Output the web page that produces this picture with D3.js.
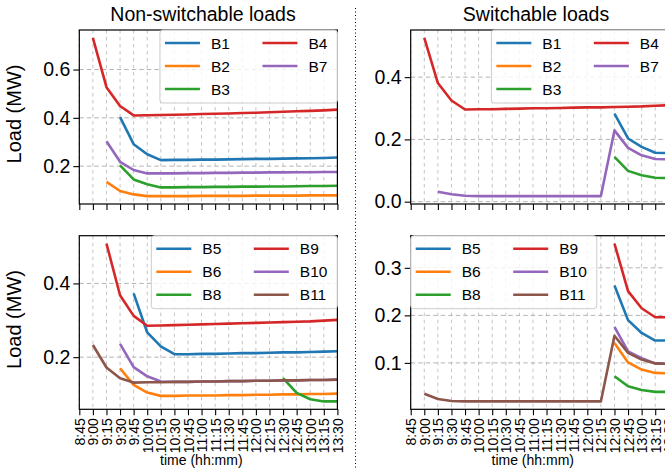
<!DOCTYPE html>
<html>
<head>
<meta charset="utf-8">
<script src="https://cdn.jsdelivr.net/npm/d3@7"></script>
<style>
  body { margin: 0; background: #fff; }
  svg { display: block; font-family: "Liberation Sans", Arial, sans-serif; }
</style>
</head>
<body>
<svg id="chart" width="665" height="474"></svg>
<script>
// x ticks every 15 minutes, data starts at 9:00
var tickLabels = ["8:45","9:00","9:15","9:30","9:45","10:00","10:15","10:30","10:45","11:00",
                  "11:15","11:30","11:45","12:00","12:15","12:30","12:45","13:00","13:15","13:30"];
var times = tickLabels.slice(1);

var topNames    = ["B1","B2","B3","B4","B7"];
var bottomNames = ["B5","B6","B8","B9","B10","B11"];

// non-switchable loads (MW)
var nsB1  = [null,null,0.403,0.291,0.249,0.225,0.226,0.226,0.227,0.227,0.228,0.229,0.230,0.230,0.231,0.232,0.233,0.234,0.236];
var nsB2  = [null,0.135,0.097,0.083,0.076,0.076,0.076,0.076,0.077,0.077,0.077,0.077,0.078,0.078,0.078,0.078,0.079,0.079,0.079];
var nsB3  = [null,null,0.203,0.145,0.125,0.112,0.112,0.113,0.113,0.114,0.114,0.115,0.115,0.116,0.116,0.117,0.118,0.118,0.119];
var nsB4  = [0.731,0.527,0.449,0.410,0.411,0.412,0.413,0.414,0.416,0.417,0.418,0.420,0.421,0.423,0.425,0.427,0.429,0.431,0.434];
var nsB7  = [null,0.303,0.218,0.184,0.170,0.170,0.170,0.171,0.171,0.172,0.172,0.173,0.173,0.174,0.174,0.175,0.175,0.176,0.176];
var nsB5  = [null,null,null,0.373,0.267,0.229,0.208,0.208,0.209,0.209,0.210,0.211,0.211,0.212,0.213,0.213,0.214,0.215,0.216];
var nsB6  = [null,null,0.170,0.125,0.104,0.095,0.095,0.096,0.096,0.096,0.097,0.097,0.098,0.098,0.099,0.099,0.100,0.100,0.101];
var nsB8  = [null,null,null,null,null,null,null,null,null,null,null,null,null,null,0.143,0.103,0.086,0.080,0.080];
var nsB9  = [null,0.508,0.368,0.312,0.285,0.286,0.287,0.288,0.289,0.290,0.291,0.292,0.293,0.294,0.295,0.296,0.297,0.299,0.301];
var nsB10 = [null,null,0.236,0.173,0.148,0.134,0.133,0.133,0.134,0.134,0.135,0.135,0.136,0.136,0.137,0.137,0.138,0.138,0.139];
var nsB11 = [0.233,0.172,0.143,0.131,0.132,0.132,0.133,0.133,0.134,0.134,0.135,0.135,0.136,0.136,0.137,0.137,0.138,0.138,0.139];

// switchable loads (MW)
var swB1  = [null,null,null,null,null,null,null,null,null,null,null,null,null,null,0.283,0.203,0.176,0.157,0.156];
var swB2  = [null,null,null,null,null,null,null,null,null,null,null,null,null,null,null,null,null,null,null];
var swB3  = [null,null,null,null,null,null,null,null,null,null,null,null,null,null,0.144,0.099,0.085,0.077,0.076];
var swB4  = [0.526,0.381,0.325,0.296,0.297,0.297,0.298,0.299,0.300,0.300,0.301,0.302,0.303,0.303,0.304,0.305,0.306,0.308,0.310];
var swB7  = [null,0.032,0.024,0.019,0.018,0.018,0.018,0.018,0.018,0.018,0.018,0.018,0.018,0.018,0.229,0.173,0.149,0.137,0.136];
var swB5  = [null,null,null,null,null,null,null,null,null,null,null,null,null,null,0.263,0.190,0.163,0.147,0.147];
var swB6  = [null,null,null,null,null,null,null,null,null,null,null,null,null,null,0.142,0.101,0.086,0.079,0.078];
var swB8  = [null,null,null,null,null,null,null,null,null,null,null,null,null,null,0.072,0.051,0.043,0.039,0.039];
var swB9  = [null,null,null,null,null,null,null,null,null,null,null,null,null,null,0.351,0.251,0.215,0.196,0.196];
var swB10 = [null,null,null,null,null,null,null,null,null,null,null,null,null,null,0.176,0.124,0.110,0.099,0.098];
var swB11 = [0.035,0.024,0.020,0.019,0.019,0.019,0.019,0.019,0.019,0.019,0.019,0.019,0.019,0.019,0.157,0.121,0.107,0.099,0.098];

var yTicksTL = [0.2, 0.4, 0.6];
var yTicksTR = [0.0, 0.2, 0.4];
var yTicksBL = [0.2, 0.4];
var yTicksBR = [0.1, 0.2, 0.3];

var svg = d3.select("#chart");
var colors = d3.schemeCategory10;

var panels = [
    {x: 79.3,  y: 30,    w: 258.1, h: 174,   names: topNames,    data: [nsB1,nsB2,nsB3,nsB4,nsB7],
     yTicks: yTicksTL, title: "Non-switchable loads", titleX: 203, ylabel: true, xlabels: false, legend: "right"},
    {x: 410.7, y: 30,    w: 258.1, h: 174,   names: topNames,    data: [swB1,swB2,swB3,swB4,swB7],
     yTicks: yTicksTR, title: "Switchable loads", titleX: 536, ylabel: false, xlabels: false, legend: "right"},
    {x: 79.3,  y: 235.7, w: 258.1, h: 173.6, names: bottomNames, data: [nsB5,nsB6,nsB8,nsB9,nsB10,nsB11],
     yTicks: yTicksBL, ylabel: true, xlabels: true, legend: "right"},
    {x: 410.7, y: 235.7, w: 258.1, h: 173.6, names: bottomNames, data: [swB5,swB6,swB8,swB9,swB10,swB11],
     yTicks: yTicksBR, ylabel: false, xlabels: true, legend: "left"}
];

var tickLen = 6;

panels.forEach(function(p, pi){

    var g = svg.append("g").attr("transform", "translate(" + p.x + "," + p.y + ")");

    var x = d3.scalePoint().domain(tickLabels).range([0, p.w]);

    // autoscale like matplotlib: extent plus 5% margin
    var all = [];
    p.data.forEach(function(s){ s.forEach(function(v){ if (v != null) all.push(v); }); });
    var ext = d3.extent(all), pad = (ext[1] - ext[0]) * 0.05;
    var y = d3.scaleLinear().domain([ext[0] - pad, ext[1] + pad]).range([p.h, 0]);

    g.append("clipPath").attr("id", "clip" + pi)
        .append("rect").attr("width", p.w).attr("height", p.h);

    // grid
    g.append("g").selectAll("line").data(tickLabels).enter().append("line")
        .attr("x1", function(d){ return x(d); }).attr("x2", function(d){ return x(d); })
        .attr("y1", 0).attr("y2", p.h)
        .attr("stroke", "#c4c4c4").attr("stroke-width", 1)
        .attr("stroke-dasharray", "3.5,3.5");
    g.append("g").selectAll("line").data(p.yTicks).enter().append("line")
        .attr("x1", 0).attr("x2", p.w)
        .attr("y1", function(d){ return y(d); }).attr("y2", function(d){ return y(d); })
        .attr("stroke", "#b4b4b4").attr("stroke-width", 1)
        .attr("stroke-dasharray", "4.5,3");

    // series
    var line = d3.line()
        .defined(function(d){ return d != null; })
        .x(function(d, i){ return x(times[i]); })
        .y(function(d){ return y(d); });

    g.append("g").attr("clip-path", "url(#clip" + pi + ")")
        .selectAll("path").data(p.data).enter().append("path")
        .attr("d", line)
        .attr("fill", "none")
        .attr("stroke", function(d, i){ return colors[i]; })
        .attr("stroke-width", 2.6)
        .attr("stroke-linejoin", "round");

    // axes
    var xAxis = d3.axisBottom(x).tickSizeOuter(0).tickSizeInner(tickLen).tickPadding(3);
    if (!p.xlabels) xAxis.tickFormat("");
    var gx = g.append("g").attr("transform", "translate(0," + p.h + ")").call(xAxis);
    gx.select(".domain").remove();
    gx.selectAll("line").attr("stroke", "#000").attr("stroke-width", 1.1);
    gx.selectAll("text")
        .attr("font-family", "Liberation Sans, Arial, sans-serif")
        .attr("font-size", 14).attr("fill", "#000")
        .attr("text-anchor", "end")
        .attr("transform", "rotate(-90)")
        .attr("x", -(tickLen + 3)).attr("y", 0).attr("dy", "0.36em");

    var yAxis = d3.axisLeft(y).tickValues(p.yTicks).tickFormat(d3.format(".1f"))
        .tickSizeOuter(0).tickSizeInner(tickLen).tickPadding(3);
    var gy = g.append("g").call(yAxis);
    gy.select(".domain").remove();
    gy.selectAll("line").attr("stroke", "#000").attr("stroke-width", 1.1);
    gy.selectAll("text")
        .attr("font-family", "Liberation Sans, Arial, sans-serif")
        .attr("font-size", 19.5).attr("fill", "#000");

    // frame
    g.append("rect").attr("width", p.w).attr("height", p.h)
        .attr("fill", "none").attr("stroke", "#000").attr("stroke-width", 1.2);

    // legend, two columns
    var lg = g.append("g");
    var rowH = 23, handle = 35, textOff = 46, col2 = 97.5, fs = 15.5;
    var box = lg.append("rect").attr("rx", 3).attr("ry", 3)
        .attr("fill", "#fff").attr("fill-opacity", 0.8)
        .attr("stroke", "#cccccc").attr("stroke-width", 1);
    var nRows = Math.ceil(p.names.length / 2);
    var maxW2 = 0;
    p.names.forEach(function(n, i){
        var col = Math.floor(i / nRows), row = i % nRows;
        var ex = 5 + col * col2, ey = 13 + row * rowH;
        lg.append("line").attr("x1", ex).attr("x2", ex + handle)
            .attr("y1", ey).attr("y2", ey)
            .attr("stroke", colors[i]).attr("stroke-width", 2.6);
        var t = lg.append("text").attr("x", ex + textOff).attr("y", ey).attr("dy", "0.36em")
            .attr("font-size", fs).attr("fill", "#000").text(n);
        if (col == 1) maxW2 = Math.max(maxW2, t.node().getComputedTextLength());
    });
    var bw = 5 + col2 + textOff + maxW2 + 10, bh = 73;
    box.attr("width", bw).attr("height", bh);
    var lx = p.legend == "right" ? p.w - bw : 0;
    lg.attr("transform", "translate(" + lx + ",0)");

    if (p.title) {
        svg.append("text").attr("x", p.titleX).attr("y", 21)
            .attr("text-anchor", "middle").attr("font-size", 19.5).text(p.title);
    }
    if (p.ylabel) {
        svg.append("text")
            .attr("transform", "translate(21," + (p.y + p.h / 2 - 3) + ") rotate(-90)")
            .attr("text-anchor", "middle").attr("font-size", 20).text("Load (MW)");
    }
    if (p.xlabels) {
        svg.append("text").attr("x", p.x + p.w / 2 - 7).attr("y", 465)
            .attr("text-anchor", "middle").attr("font-size", 14).text("time (hh:mm)");
    }
});

// dotted separator between the two columns
svg.append("line").attr("x1", 355.5).attr("x2", 355.5).attr("y1", 8).attr("y2", 468)
    .attr("stroke", "#000").attr("stroke-width", 1).attr("stroke-dasharray", "1,2.5");
</script>
</body>
</html>
